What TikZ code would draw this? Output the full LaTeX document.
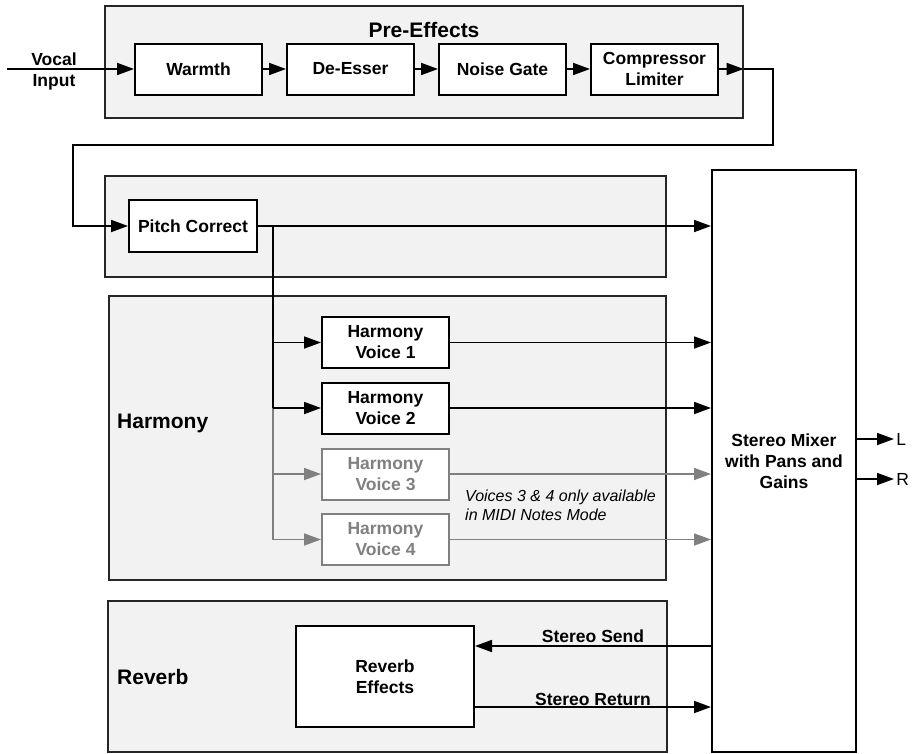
\documentclass[tikz,border=0pt]{standalone}
\usepackage{fontspec}
\setmainfont{Liberation Sans}
\usetikzlibrary{arrows.meta}

\begin{document}
\begin{tikzpicture}[x=1pt,y=-1pt,
  section/.style={draw=black!85, line width=1.3pt, fill=black!5, inner sep=0pt},
  block/.style={draw, line width=2pt, fill=white, minimum width=127pt, minimum height=51pt,
    align=center, inner sep=0pt, font=\fontsize{17.5}{21}\selectfont\bfseries},
  dimmed/.style={draw=black!50, text=black!50},
  title/.style={font=\fontsize{21}{25}\selectfont\bfseries, inner sep=0pt},
  lbl/.style={font=\fontsize{17.5}{21}\selectfont\bfseries, align=center, inner sep=2pt},
  wire/.style={line width=1.8pt},
  arr/.style={line width=1.8pt, -{Triangle[length=17pt,width=12pt]}},
  grayarr/.style={arr, draw=black!50, fill=black!50}
]
\useasboundingbox (0,0) rectangle (919,753);

% Bereiche
\node[section, minimum width=638pt, minimum height=112pt] (pre) at (424,62) {};
\node[section, minimum width=561pt, minimum height=101pt] (pitchsec) at (385.5,226.5) {};
\node[section, minimum width=557pt, minimum height=284pt] (harmsec) at (387.5,438) {};
\node[section, minimum width=559pt, minimum height=151pt] (revsec) at (387.5,676.5) {};

\node[title] (pretitle) at (424,30) {Pre-Effects};
\node[title, anchor=west] (harmtitle) at (117,423) {Harmony};
\node[title, anchor=west] (revtitle) at (117,677) {Reverb};

% Bloecke
\node[lbl] (vin) at (54,71) {Vocal\\Input};
\node[block] (warmth) at (198.5,69) {Warmth};
\node[block] (desser) at (350.5,69) {De-Esser};
\node[block] (gate) at (502.5,69) {Noise Gate};
\node[block] (comp) at (654.5,69) {Compressor\\Limiter};

\node[block, minimum width=128pt, minimum height=52pt] (pitch) at (193,226) {Pitch Correct};

\node[block] (v1) at (385.5,342.5) {Harmony\\Voice 1};
\node[block] (v2) at (385.5,408) {Harmony\\Voice 2};
\node[block, dimmed] (v3) at (385.5,474) {Harmony\\Voice 3};
\node[block, dimmed] (v4) at (385.5,539.5) {Harmony\\Voice 4};

\node[font=\fontsize{16}{19}\selectfont\itshape, align=left, anchor=west, inner sep=0pt] (note)
  at (465,505.5) {Voices 3 \& 4 only available\\in MIDI Notes Mode};

\node[block, minimum width=178pt, minimum height=101pt] (rev) at (385,676.5) {Reverb\\Effects};

\node[block, minimum width=144pt, minimum height=582pt] (mixer) at (784,461)
  {Stereo Mixer\\with Pans and\\Gains};

% Signalfluss Pre-Effects
\coordinate (vstart) at (7,69);
\draw[arr] (vstart) -- (warmth.west);
\draw[arr] (warmth) -- (desser);
\draw[arr] (desser) -- (gate);
\draw[arr] (gate) -- (comp);
\coordinate (preout) at (comp.east -| pre.east);
\draw[arr] (comp.east) -- (preout);
\coordinate (loop) at (73,145);
\draw[arr] (preout) -- ++(29,0) |- (loop) |- (pitch.west);

% Pitch Correct zum Mixer
\draw[arr] (pitch.east) -- (pitch.east -| mixer.west);

% Harmony-Stimmen
\coordinate (tap) at ([xshift=15pt]pitch.east);
\draw[line width=1.3pt] (tap) -- (tap |- v2.west);
\draw[line width=1.3pt, draw=black!50] (tap |- v2.west) -- (tap |- v4.west);
\draw[arr] (tap |- v1.west) -- (v1.west);
\draw[arr] (tap |- v2.west) -- (v2.west);
\draw[grayarr] (tap |- v3.west) -- (v3.west);
\draw[grayarr] (tap |- v4.west) -- (v4.west);

\draw[arr] (v1.east) -- (v1.east -| mixer.west);
\draw[arr] (v2.east) -- (v2.east -| mixer.west);
\draw[grayarr] (v3.east) -- (v3.east -| mixer.west);
\draw[grayarr] (v4.east) -- (v4.east -| mixer.west);

% Reverb Send/Return
\coordinate (send) at ([yshift=30.5pt]rev.east);
\coordinate (ret) at ([yshift=-30.5pt]rev.east);
\draw[arr] (send -| mixer.west) -- node[lbl, above] (sendlbl) {Stereo Send} (send);
\draw[arr] (ret) -- node[lbl, above, inner sep=0.5pt] (retlbl) {Stereo Return} (ret -| mixer.west);

% Ausgaenge
\coordinate (lout) at ([yshift=22pt]mixer.east);
\coordinate (rout) at ([yshift=-18pt]mixer.east);
\draw[arr] (lout) -- ++(37,0) node[right, inner sep=1.5pt, font=\fontsize{17.5}{21}\selectfont] (lname) {L};
\draw[arr] (rout) -- ++(37,0) node[right, inner sep=1.5pt, font=\fontsize{17.5}{21}\selectfont] (rname) {R};

\end{tikzpicture}
\end{document}
